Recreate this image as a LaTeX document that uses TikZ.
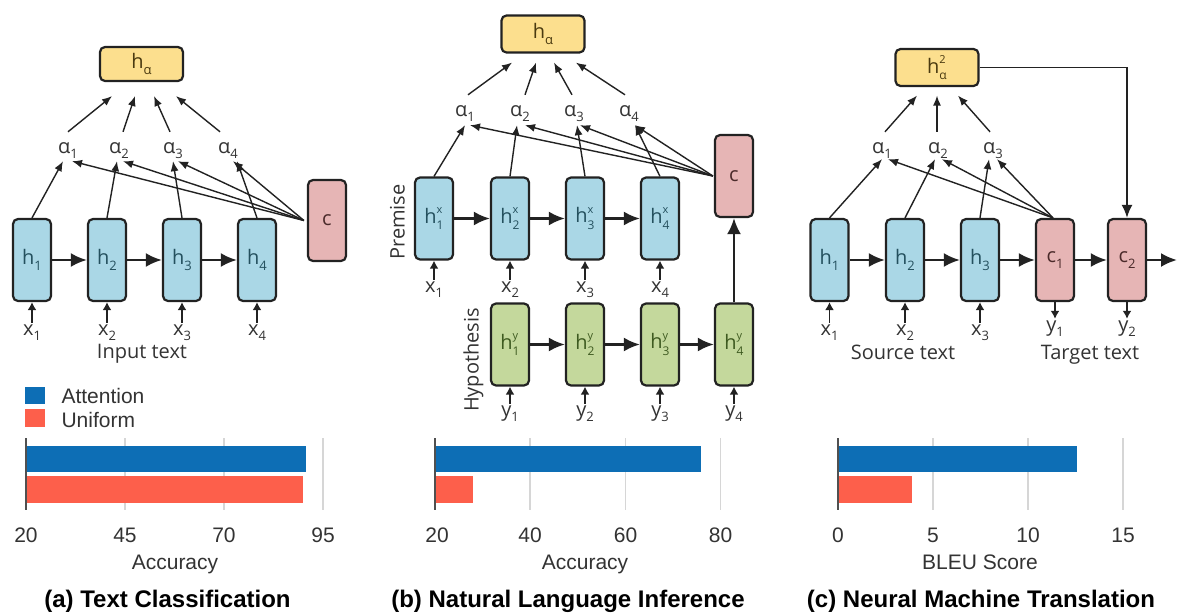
\documentclass[tikz,border=0pt]{standalone}
\usepackage{fontspec}
\setmainfont{Open Sans}
\newfontfamily\chartfont{Liberation Sans}
\usetikzlibrary{arrows.meta,calc}
\definecolor{bblue}{HTML}{AAD7E6}
\definecolor{bpink}{HTML}{E6B5B5}
\definecolor{byel}{HTML}{FCDF8E}
\definecolor{bgreen}{HTML}{C4D89C}
\definecolor{edge}{HTML}{222222}
\definecolor{labc}{HTML}{333333}
\definecolor{tblue}{HTML}{24505E}
\definecolor{tgreen}{HTML}{3E5A20}
\definecolor{tpink}{HTML}{4A2A2A}
\definecolor{tyel}{HTML}{4A3A10}
\definecolor{attn}{HTML}{0D6EB5}
\definecolor{unif}{HTML}{FD5F4B}
\definecolor{gridc}{HTML}{D6D6D6}
\definecolor{axisc}{HTML}{505050}
\newcommand{\Sb}[2]{#1\raisebox{-0.28em}{\fontsize{13}{13}\selectfont #2}}
\newcommand{\SbSp}[3]{#1\rlap{\raisebox{0.48em}{\fontsize{11}{11}\selectfont #2}}\raisebox{-0.32em}{\fontsize{12}{12}\selectfont #3}}
\tikzset{
 box/.style={draw=edge, line width=2.2pt, rounded corners=5pt, minimum width=38pt, minimum height=82pt, inner sep=0pt, font=\fontsize{20}{20}\selectfont},
 bluebox/.style={box, fill=bblue, text=tblue},
 greenbox/.style={box, fill=bgreen, text=tgreen},
 pinkbox/.style={box, fill=bpink, text=tpink},
 topbox/.style={draw=edge, line width=2.2pt, rounded corners=5pt, fill=byel, text=tyel, minimum width=83pt, minimum height=34pt, inner sep=0pt, font=\fontsize{20}{20}\selectfont},
 lab/.style={inner sep=1pt, text height=11pt, text depth=5pt, anchor=base, text=labc, font=\fontsize{20}{20}\selectfont},
 thinarr/.style={draw=edge, line width=1.4pt, -{Latex[length=10pt,width=8pt]}},
 thickarr/.style={draw=edge, line width=2.5pt, -{Latex[length=16pt,width=14pt]}},
 inarr/.style={draw=edge, line width=1.9pt, -{Latex[length=8pt,width=9pt]}},
 txt/.style={text=labc, anchor=base, font=\fontsize{20}{20}\selectfont},
 chart/.style={text=labc, anchor=base, font=\chartfont\fontsize{21}{21}\selectfont},
 capt/.style={text=black, anchor=base, font=\chartfont\bfseries\fontsize{24}{24}\selectfont},
 gridl/.style={draw=gridc, line width=1.5pt},
 axisl/.style={draw=axisc, line width=1.5pt},
}
\begin{document}
\begin{tikzpicture}[x=1pt,y=-1pt]
\useasboundingbox (0,0) rectangle (1178,614);
\fill[white] (0,0) rectangle (1178,614);

% ================= Panel (a) =================
\node[topbox] (aha) at (141.5,64) {\Sb{h}{α}};
\node[bluebox] (ah1) at (32,260) {\Sb{h}{1}};
\node[bluebox] (ah2) at (107,260) {\Sb{h}{2}};
\node[bluebox] (ah3) at (182,260) {\Sb{h}{3}};
\node[bluebox] (ah4) at (257,260) {\Sb{h}{4}};
\node[pinkbox, minimum height=81pt] (ac) at (327,220.5) {c};
\node[lab] (aa1) at (68,153) {\Sb{α}{1}};
\node[lab] (aa2) at (119,153) {\Sb{α}{2}};
\node[lab] (aa3) at (173,153) {\Sb{α}{3}};
\node[lab] (aa4) at (228,153) {\Sb{α}{4}};
\node[lab] (ax1) at (32,335) {\Sb{x}{1}};
\node[lab] (ax2) at (107,335) {\Sb{x}{2}};
\node[lab] (ax3) at (182,335) {\Sb{x}{3}};
\node[lab] (ax4) at (257,335) {\Sb{x}{4}};
\node[txt] (ain) at (142,358) {Input text};
\draw[thickarr] (ah1.east) -- (ah2.west);
\draw[thickarr] (ah2.east) -- (ah3.west);
\draw[thickarr] (ah3.east) -- (ah4.west);
\draw[inarr] (ax1.north) -- (ah1.south);
\draw[inarr] (ax2.north) -- (ah2.south);
\draw[inarr] (ax3.north) -- (ah3.south);
\draw[inarr] (ax4.north) -- (ah4.south);
\draw[thinarr] ($(aa1.north)+(0,-9)$) -- ($(aha.south)+(-29.5,14)$);
\draw[thinarr] ($(aa2.north)+(4,-9)$) -- ($(aha.south)+(-6.5,14)$);
\draw[thinarr] ($(aa3.north)+(-3,-9)$) -- ($(aha.south)+(12.5,14)$);
\draw[thinarr] ($(aa4.north)+(-8,-9)$) -- ($(aha.south)+(34.5,14)$);
\draw[thinarr] (ah1.north) -- ($(aa1.south)+(-5,2)$);
\draw[thinarr] (ah2.north) -- ($(aa2.south)+(-2,2)$);
\draw[thinarr] (ah3.north) -- ($(aa3.south)+(0,2)$);
\draw[thinarr] (ah4.north) -- ($(aa4.south)+(9,2)$);
\draw[thinarr] ($(ac.west)+(-3,0)$) -- ($(aa1.south)+(4,2)$);
\draw[thinarr] ($(ac.west)+(-3,0)$) -- ($(aa2.south)+(4,2)$);
\draw[thinarr] ($(ac.west)+(-3,0)$) -- ($(aa3.south)+(5,2)$);
\draw[thinarr] ($(ac.west)+(-3,0)$) -- ($(aa4.south)+(5,2)$);

% ================= Panel (b) =================
\node[topbox, minimum height=37pt] (bha) at (543,34) {\Sb{h}{α}};
\node[bluebox] (bhx1) at (434,218.5) {\SbSp{h}{x}{1}};
\node[bluebox] (bhx2) at (510,218.5) {\SbSp{h}{x}{2}};
\node[bluebox] (bhx3) at (585,218.5) {\SbSp{h}{x}{3}};
\node[bluebox] (bhx4) at (660,218.5) {\SbSp{h}{x}{4}};
\node[pinkbox] (bc) at (734,176) {c};
\node[greenbox] (bhy1) at (510,344.5) {\SbSp{h}{y}{1}};
\node[greenbox] (bhy2) at (585,344.5) {\SbSp{h}{y}{2}};
\node[greenbox] (bhy3) at (660,344.5) {\SbSp{h}{y}{3}};
\node[greenbox] (bhy4) at (734,344.5) {\SbSp{h}{y}{4}};
\node[lab] (ba1) at (465,116) {\Sb{α}{1}};
\node[lab] (ba2) at (520,116) {\Sb{α}{2}};
\node[lab] (ba3) at (574,116) {\Sb{α}{3}};
\node[lab] (ba4) at (629,116) {\Sb{α}{4}};
\node[lab] (bx1) at (434,292) {\Sb{x}{1}};
\node[lab] (bx2) at (510,292) {\Sb{x}{2}};
\node[lab] (bx3) at (585,292) {\Sb{x}{3}};
\node[lab] (bx4) at (660,292) {\Sb{x}{4}};
\node[lab] (by1) at (510,416) {\Sb{y}{1}};
\node[lab] (by2) at (585,416) {\Sb{y}{2}};
\node[lab] (by3) at (660,416) {\Sb{y}{3}};
\node[lab] (by4) at (734,416) {\Sb{y}{4}};
\node[text=labc, font=\fontsize{20}{20}\selectfont, rotate=90] (bprem) at (397.5,222) {Premise};
\node[text=labc, font=\fontsize{20}{20}\selectfont, rotate=90] (bhyp) at (473.5,360) {Hypothesis};
\draw[thickarr] (bhx1.east) -- (bhx2.west);
\draw[thickarr] (bhx2.east) -- (bhx3.west);
\draw[thickarr] (bhx3.east) -- (bhx4.west);
\draw[thickarr] (bhy1.east) -- (bhy2.west);
\draw[thickarr] (bhy2.east) -- (bhy3.west);
\draw[thickarr] (bhy3.east) -- (bhy4.west);
\draw[thickarr] (bhy4.north) -- (bc.south);
\draw[inarr] (bx1.north) -- (bhx1.south);
\draw[inarr] (bx2.north) -- (bhx2.south);
\draw[inarr] (bx3.north) -- (bhx3.south);
\draw[inarr] (bx4.north) -- (bhx4.south);
\draw[inarr] (by1.north) -- (bhy1.south);
\draw[inarr] (by2.north) -- (bhy2.south);
\draw[inarr] (by3.north) -- (bhy3.south);
\draw[inarr] (by4.north) -- (bhy4.south);
\draw[thinarr] ($(ba1.north)+(3,-9)$) -- ($(bha.south)+(-31,9)$);
\draw[thinarr] ($(ba2.north)+(5,-9)$) -- ($(bha.south)+(-7,9)$);
\draw[thinarr] ($(ba3.north)+(-2,-9)$) -- ($(bha.south)+(11,9)$);
\draw[thinarr] ($(ba4.north)+(-4,-9)$) -- ($(bha.south)+(33,9)$);
\draw[thinarr] (bhx1.north) -- ($(ba1.south)+(0,3)$);
\draw[thinarr] (bhx2.north) -- ($(ba2.south)+(-3,3)$);
\draw[thinarr] (bhx3.north) -- ($(ba3.south)+(3,3)$);
\draw[thinarr] (bhx4.north) -- ($(ba4.south)+(6,3)$);
\draw[thinarr] ($(bc.west)+(-1,0)$) -- ($(ba1.south)+(5,3)$);
\draw[thinarr] ($(bc.west)+(-1,0)$) -- ($(ba2.south)+(5,3)$);
\draw[thinarr] ($(bc.west)+(-1,0)$) -- ($(ba3.south)+(6,3)$);
\draw[thinarr] ($(bc.west)+(-1,0)$) -- ($(ba4.south)+(6,3)$);

% ================= Panel (c) =================
\node[topbox, minimum height=37pt] (cha) at (937,67.5) {\SbSp{h}{2}{α}};
\node[bluebox] (ch1) at (829.5,260) {\Sb{h}{1}};
\node[bluebox] (ch2) at (905,260) {\Sb{h}{2}};
\node[bluebox] (ch3) at (980,260) {\Sb{h}{3}};
\node[pinkbox] (cc1) at (1055,260) {\Sb{c}{1}};
\node[pinkbox] (cc2) at (1127,260) {\Sb{c}{2}};
\coordinate (cend) at (1177,260);
\node[lab] (ca1) at (882,153) {\Sb{α}{1}};
\node[lab] (ca2) at (938,153) {\Sb{α}{2}};
\node[lab] (ca3) at (993,153) {\Sb{α}{3}};
\node[lab] (cx1) at (829.5,335) {\Sb{x}{1}};
\node[lab] (cx2) at (905,335) {\Sb{x}{2}};
\node[lab] (cx3) at (980,335) {\Sb{x}{3}};
\node[lab] (cy1) at (1055,331) {\Sb{y}{1}};
\node[lab] (cy2) at (1127,331) {\Sb{y}{2}};
\node[txt] (csrc) at (903,359) {Source text};
\node[txt] (ctgt) at (1090,359) {Target text};
\draw[thickarr] (ch1.east) -- (ch2.west);
\draw[thickarr] (ch2.east) -- (ch3.west);
\draw[thickarr] (ch3.east) -- (cc1.west);
\draw[thickarr] (cc1.east) -- (cc2.west);
\draw[thickarr] (cc2.east) -- (cend);
\draw[inarr] (cx1.north) -- (ch1.south);
\draw[inarr] (cx2.north) -- (ch2.south);
\draw[inarr] (cx3.north) -- (ch3.south);
\draw[inarr] (cc1.south) -- (cy1.north);
\draw[inarr] (cc2.south) -- (cy2.north);
\draw[draw=edge, line width=1.9pt, -{Latex[length=13pt,width=11pt]}] (cha.east) -| (cc2.north);
\draw[thinarr] ($(ca1.north)+(3,-9)$) -- ($(cha.south)+(-20,8.5)$);
\draw[thinarr] ($(ca2.north)+(-1,-9)$) -- ($(cha.south)+(0,8.5)$);
\draw[thinarr] ($(ca3.north)+(-3,-9)$) -- ($(cha.south)+(21,8.5)$);
\draw[thinarr] (ch1.north) -- ($(ca1.south)+(0,0)$);
\draw[thinarr] (ch2.north) -- ($(ca2.south)+(-3,0)$);
\draw[thinarr] (ch3.north) -- ($(ca3.south)+(-4,0)$);
\draw[thinarr] ($(cc1.north)+(-2,0)$) -- ($(ca1.south)+(6,0)$);
\draw[thinarr] ($(cc1.north)+(-2,0)$) -- ($(ca2.south)+(4,0)$);
\draw[thinarr] ($(cc1.north)+(-2,0)$) -- ($(ca3.south)+(4,0)$);

% ================= Legend =================
\fill[attn] (25,387) rectangle (45,404);
\fill[unif] (25,409) rectangle (45,427);
\node[chart, anchor=base west] (lgA) at (58,403) {Attention};
\node[chart, anchor=base west] (lgU) at (58,427) {Uniform};

% ================= Chart (a) =================
\draw[gridl] (125,438) -- (125,510);
\draw[gridl] (224,438) -- (224,510);
\draw[gridl] (323,438) -- (323,510);
\fill[attn] (26,446) rectangle (306,472);
\fill[unif] (26,476) rectangle (303,503);
\draw[axisl] (26,438) -- (26,510);
\node[chart] at (26,542) {20};
\node[chart] at (125,542) {45};
\node[chart] at (224,542) {70};
\node[chart] at (323,542) {95};
\node[chart] at (175,569) {Accuracy};
\node[capt] at (167.5,607) {(a) Text Classification};

% ================= Chart (b) =================
\draw[gridl] (530,438) -- (530,510);
\draw[gridl] (625.5,438) -- (625.5,510);
\draw[gridl] (720.5,438) -- (720.5,510);
\fill[attn] (435,446) rectangle (701,472);
\fill[unif] (435,476) rectangle (473,503);
\draw[axisl] (435,438) -- (435,510);
\node[chart] at (437,542) {20};
\node[chart] at (530,542) {40};
\node[chart] at (625.5,542) {60};
\node[chart] at (720.5,542) {80};
\node[chart] at (585,569) {Accuracy};
\node[capt] at (568,607) {(b) Natural Language Inference};

% ================= Chart (c) =================
\draw[gridl] (933,438) -- (933,510);
\draw[gridl] (1028,438) -- (1028,510);
\draw[gridl] (1123,438) -- (1123,510);
\fill[attn] (838,446) rectangle (1077,472);
\fill[unif] (838,476) rectangle (912,503);
\draw[axisl] (838,438) -- (838,510);
\node[chart] at (838,542) {0};
\node[chart] at (933,542) {5};
\node[chart] at (1028,542) {10};
\node[chart] at (1123,542) {15};
\node[chart] at (980,569) {BLEU Score};
\node[capt] at (981,607) {(c) Neural Machine Translation};
\end{tikzpicture}
\end{document}
